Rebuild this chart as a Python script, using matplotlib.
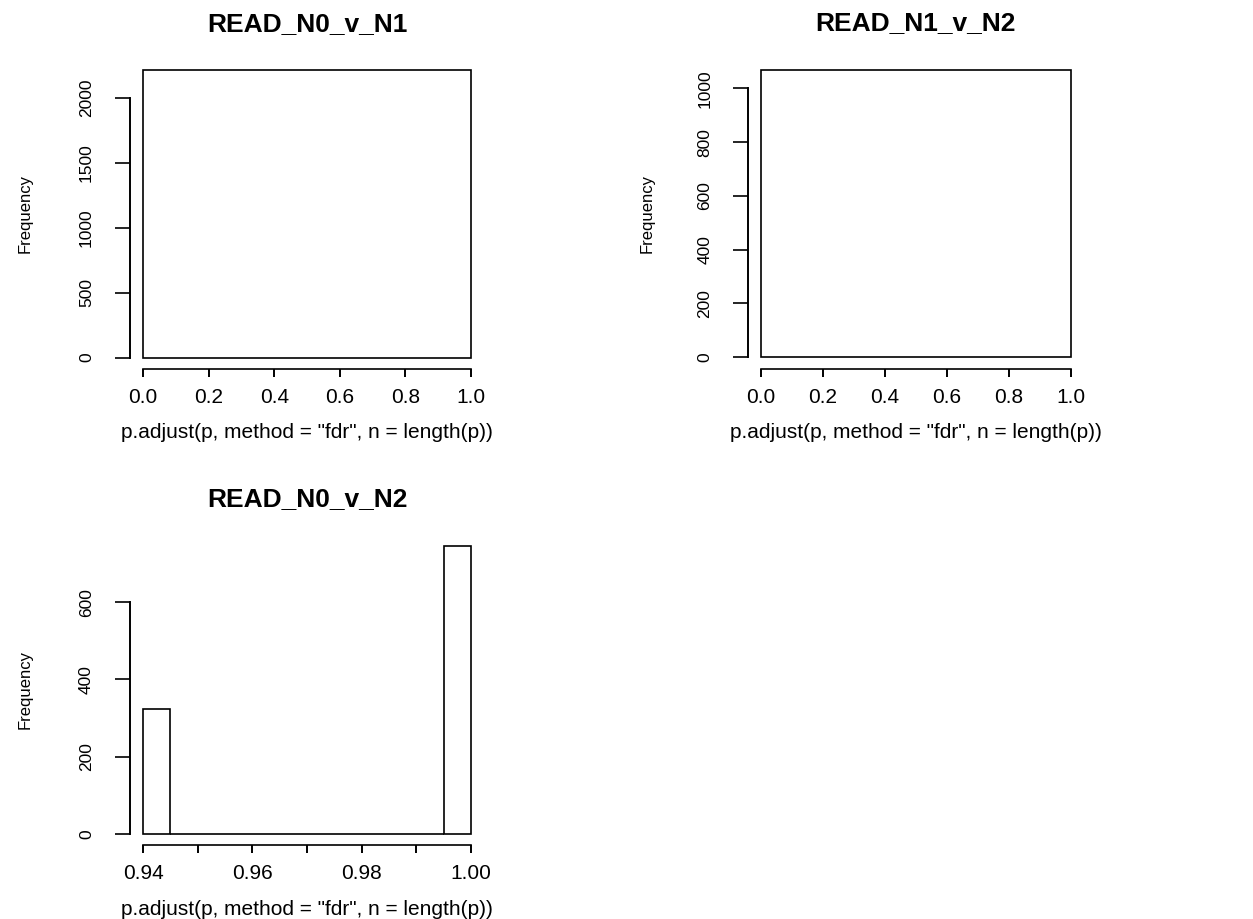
import matplotlib
matplotlib.use('Agg')
import matplotlib.pyplot as plt

plt.rcParams['font.family'] = ['Liberation Sans', 'DejaVu Sans']

# histogram data (bin edges and counts)
titles = ['READ_N0_v_N1', 'READ_N1_v_N2', 'READ_N0_v_N2']
xlabel = 'p.adjust(p, method = "fdr", n = length(p))'

edges_01 = [0.0, 1.0]
counts_01 = [2210]

edges_12 = [0.0, 1.0]
counts_12 = [1069]

edges_02 = [0.940, 0.945, 0.950, 0.955, 0.960, 0.965, 0.970,
            0.975, 0.980, 0.985, 0.990, 0.995, 1.000]
counts_02 = [323, 0, 0, 0, 0, 0, 0, 0, 0, 0, 0, 746]

yticks_01 = [0, 500, 1000, 1500, 2000]
yticks_12 = [0, 200, 400, 600, 800, 1000]
yticks_02 = [0, 200, 400, 600]
xticks_unit = [0.0, 0.2, 0.4, 0.6, 0.8, 1.0]
xticklabels_unit = ['0.0', '0.2', '0.4', '0.6', '0.8', '1.0']
xticks_02 = [0.94, 0.95, 0.96, 0.97, 0.98, 0.99, 1.00]
xticklabels_02 = ['0.94', '', '0.96', '', '0.98', '', '1.00']


def r_hist(ax, edges, counts, yticks, xticks, xticklabels, title, ylab_x):
    lefts = edges[:-1]
    widths = [b - a for a, b in zip(edges[:-1], edges[1:])]
    ax.bar(lefts, counts, width=widths, align='edge', facecolor='white',
           edgecolor='black', linewidth=1.2)

    # R style: 4% padding around data range, axes drawn at plot region edge
    x0, x1 = edges[0], edges[-1]
    dx = (x1 - x0) * 0.04
    ax.set_xlim(x0 - dx, x1 + dx)
    ymax = max(counts)
    ax.set_ylim(-0.04 * ymax, ymax * 1.04)

    for s in ['top', 'right']:
        ax.spines[s].set_visible(False)
    ax.spines['left'].set_bounds(yticks[0], yticks[-1])
    ax.spines['bottom'].set_bounds(xticks[0], xticks[-1])
    ax.spines['left'].set_linewidth(1.4)
    ax.spines['bottom'].set_linewidth(1.2)

    ax.set_yticks(yticks)
    ax.set_yticklabels([str(v) for v in yticks], rotation=90, va='center')
    ax.set_xticks(xticks)
    ax.set_xticklabels(xticklabels)
    ax.tick_params(axis='y', length=11, width=1.2, pad=15, labelsize=12.5)
    ax.tick_params(axis='x', length=5.8, width=1.4, pad=8, labelsize=15)

    ax.set_xlabel(xlabel, fontsize=15)
    ax.xaxis.set_label_coords(0.5, -0.206)
    ax.xaxis.label.set_va('center')
    ax.set_ylabel('Frequency', fontsize=12)
    ax.yaxis.set_label_coords(ylab_x, 0.5)
    ax.yaxis.label.set_va('center')

    ax.text(0.5, 1.113, title, transform=ax.transAxes, ha='center',
            va='center', fontsize=19, fontweight='bold')


fig = plt.figure(figsize=(12.53, 9.19), dpi=100)
ax1 = fig.add_axes([0.10375, 0.59848, 0.28252, 0.33732])
ax2 = fig.add_axes([0.59721, 0.59869, 0.26744, 0.33798])
ax3 = fig.add_axes([0.10375, 0.08030, 0.28252, 0.33808])

r_hist(ax1, edges_01, counts_01, yticks_01, xticks_unit, xticklabels_unit,
       titles[0], -0.297)
r_hist(ax2, edges_12, counts_12, yticks_12, xticks_unit, xticklabels_unit,
       titles[1], -0.302)
r_hist(ax3, edges_02, counts_02, yticks_02, xticks_02, xticklabels_02,
       titles[2], -0.297)

fig.savefig('out.png', dpi=100)
